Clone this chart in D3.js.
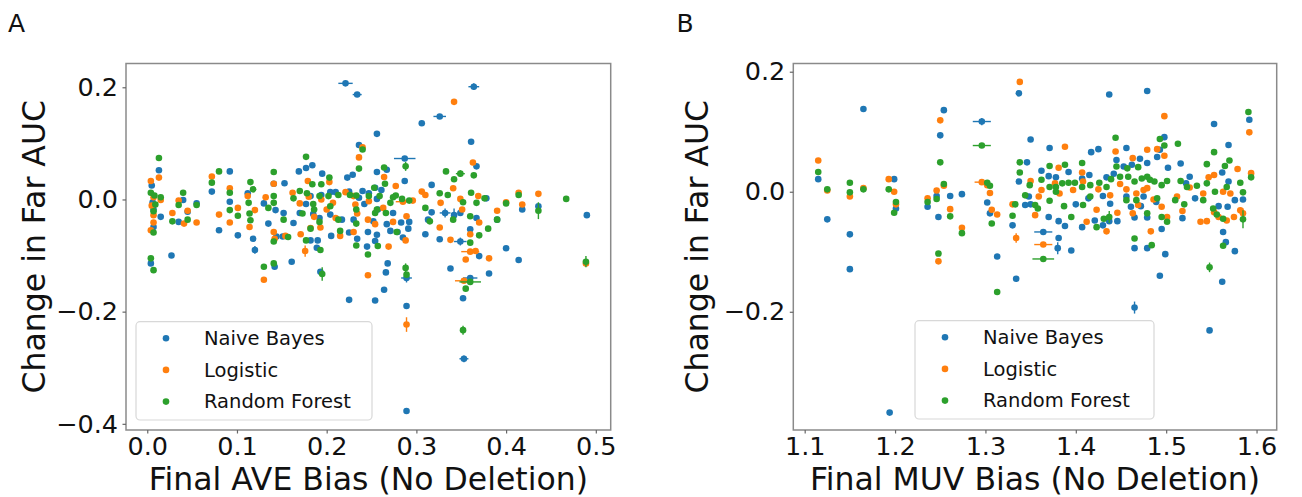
<!DOCTYPE html>
<html>
<head>
<meta charset="utf-8">
<script src="https://cdn.jsdelivr.net/npm/d3@7"></script>
<style>
  body { margin: 0; background: #fff; }
  svg { font-family: "DejaVu Sans", sans-serif; }
</style>
</head>
<body>
<svg id="chart" width="1302" height="497"></svg>
<script>
// each point: [x, y, xerr, yerr] (errors optional)
var seriesNames = ["Naive Bayes", "Logistic", "Random Forest"];
var seriesColors = ["#1f77b4", "#ff7f0e", "#2ca02c"];

var aveXTicks = [0, 0.1, 0.2, 0.3, 0.4, 0.5];
var aveYTicks = [-0.4, -0.2, 0, 0.2];
var muvXTicks = [1.1, 1.2, 1.3, 1.4, 1.5, 1.6];
var muvYTicks = [-0.2, 0, 0.2];

var aveNaiveBayes = [
    [0.221,0.207,0.008,0],[0.234,0.187,0.005,0],[0.256,0.117],[0.236,0.097],[0.013,0.052],
    [0.092,0.050],[0.072,0.014],[0.005,0.025],[0.006,-0.005],[0.007,-0.018],[0.015,-0.031],
    [0.007,-0.049],[0.035,-0.040],[0.040,-0.001],[0.045,-0.022],[0.055,-0.007],[0.027,-0.100],
    [0.080,-0.055],[0.092,-0.004],[0.101,-0.064],[0.112,0.011],[0.118,-0.070],[0.120,-0.090,0,0.007],
    [0.004,-0.114],[0.130,-0.007],[0.135,-0.043],[0.141,0.028],[0.143,-0.019],[0.144,-0.066],
    [0.142,-0.120],[0.153,0.029],[0.152,-0.024],[0.151,-0.066],[0.163,-0.042],[0.170,-0.024],
    [0.161,-0.111],[0.169,0.050],[0.177,0.056],[0.184,0.061],[0.177,-0.008],[0.182,0.006],
    [0.185,-0.026],[0.194,0.008],[0.192,-0.033],[0.182,-0.073],[0.190,-0.073],[0.189,-0.086],
    [0.193,-0.129],[0.195,0.046],[0.204,0.013],[0.204,-0.027],[0.205,-0.065],[0.217,-0.036],
    [0.210,0.013],[0.223,0.039],[0.229,0.044],[0.225,0.014],[0.236,0.003],[0.230,-0.036],
    [0.225,-0.059],[0.234,-0.070],[0.246,-0.058],[0.256,0.001],[0.254,0.021],[0.254,-0.074],
    [0.240,0.015],[0.245,-0.084],[0.225,-0.179],[0.254,-0.180],
    [0.364,0.201,0.006,0.006],[0.326,0.148,0.007,0],[0.306,0.136],[0.361,0.103],[0.287,0.073,0.012,0],
    [0.367,0.059],[0.287,0.033],[0.267,0.053],[0.256,0.049],[0.317,0.026],[0.247,0.011],
    [0.261,0.017],[0.242,-0.008],[0.257,-0.018],[0.274,-0.024],[0.252,-0.039],[0.267,-0.044],
    [0.283,-0.041],[0.292,-0.040],[0.256,-0.063],[0.271,-0.056],[0.279,-0.058],[0.285,-0.068],
    [0.291,-0.052],[0.310,-0.062],[0.317,-0.023],[0.313,-0.036],[0.326,-0.071],
    [0.332,-0.024,0.006,0.008],[0.342,-0.028,0,0.012],[0.349,-0.024],[0.349,-0.075,0.007,0.007],
    [0.360,-0.053],[0.367,-0.033],[0.378,0.002],[0.390,-0.036],[0.400,-0.087],[0.414,-0.108],
    [0.418,-0.018],[0.436,-0.012],[0.490,-0.028],[0.381,-0.132],[0.370,-0.101],[0.338,-0.123],
    [0.268,-0.114],[0.266,-0.130],[0.289,-0.140,0.006,0.008],[0.264,-0.161],[0.289,-0.190],
    [0.352,-0.176],[0.353,-0.284,0.005,0.006],[0.289,-0.377],[0.360,-0.140,0.008,0]
];

var aveLogistic = [
    [0.240,0.093],[0.236,0.075],[0.013,0.039],[0.004,0.033],[0.007,0.004],[0.005,-0.011],
    [0.015,-0.001],[0.007,-0.028],[0.007,-0.041],[0.004,-0.055],[0.028,-0.024],[0.035,-0.002],
    [0.041,-0.043],[0.045,-0.020],[0.055,-0.041],[0.072,0.041],[0.080,-0.027],[0.092,0.020],
    [0.092,-0.041],[0.101,-0.015],[0.112,0.006],[0.120,-0.019],[0.114,-0.049],[0.132,0.004],
    [0.141,0.028],[0.141,-0.058],[0.142,-0.070],[0.130,-0.143],[0.154,-0.065],[0.162,0.012],
    [0.170,-0.007],[0.171,-0.062],[0.179,0.033],[0.180,0.005],[0.186,-0.031],[0.194,0.000],
    [0.193,-0.050],[0.176,-0.092,0,0.010],[0.182,-0.051],[0.203,0.031],[0.207,-0.006],
    [0.200,-0.018],[0.210,-0.033],[0.215,-0.065],[0.221,0.013],[0.230,0.006],[0.232,-0.009],
    [0.234,-0.025],[0.230,-0.058],[0.246,-0.036],[0.247,-0.003],[0.254,-0.044],[0.246,-0.135],
    [0.342,0.174],[0.363,0.066],[0.264,0.040],[0.277,0.024],[0.306,0.014],[0.310,0.008],
    [0.327,-0.006],[0.341,0.020],[0.349,0.001],[0.369,0.006],[0.390,-0.020],[0.400,-0.005],
    [0.414,0.012],[0.418,-0.009],[0.436,0.010],[0.489,-0.114],[0.263,-0.015],[0.289,-0.030],
    [0.274,-0.040],[0.288,-0.073],[0.269,-0.084],[0.326,-0.050],[0.338,-0.072],[0.351,-0.018],
    [0.360,-0.062],[0.360,-0.093,0.010,0],[0.366,-0.092],[0.355,-0.107],[0.381,-0.105],
    [0.370,-0.041],[0.289,-0.223,0,0.013],[0.353,-0.145,0.010,0],[0.285,-0.004,0.008,0],[0.296,-0.002]
];

var aveRandomForest = [
    [0.240,0.089],[0.236,0.055],[0.013,0.074],[0.004,0.012],[0.008,0.007],[0.009,-0.009],
    [0.015,0.004],[0.007,-0.021],[0.007,-0.059],[0.004,-0.105],[0.007,-0.126],[0.028,-0.039],
    [0.035,-0.010],[0.040,0.012],[0.045,-0.036],[0.055,-0.010],[0.072,0.030],[0.080,0.050],
    [0.092,0.012],[0.092,-0.019],[0.101,-0.029],[0.115,0.031],[0.118,0.018],[0.113,-0.006],
    [0.114,-0.025],[0.115,-0.037],[0.135,-0.015],[0.141,0.049],[0.141,0.006],[0.141,-0.006],
    [0.141,-0.075],[0.130,-0.120],[0.141,-0.114],[0.152,-0.036],[0.157,-0.067],[0.163,0.002],
    [0.170,0.015],[0.173,-0.025],[0.177,0.076],[0.184,0.027],[0.178,0.011],[0.185,-0.008],
    [0.186,-0.018],[0.192,0.006],[0.192,-0.040],[0.177,-0.073],[0.193,-0.090],[0.182,-0.052],
    [0.195,-0.133,0,0.012],[0.194,0.027],[0.203,0.039],[0.202,0.006],[0.204,-0.012],
    [0.213,-0.036],[0.215,-0.056],[0.213,0.008],[0.226,0.008],[0.233,0.007],[0.233,-0.018],
    [0.233,-0.043],[0.233,-0.082],[0.254,-0.024],[0.247,0.006],[0.256,-0.018],[0.246,-0.098],
    [0.257,-0.083],
    [0.288,0.059,0,0.008],[0.264,0.057],[0.253,0.021],[0.265,0.028],[0.277,0.007],[0.284,0.001],
    [0.292,-0.002],[0.259,0.006],[0.271,-0.006],[0.266,-0.024],[0.274,0.004],[0.310,-0.015],
    [0.315,-0.039],[0.326,0.011],[0.335,0.008],[0.333,0.050],[0.342,0.036],[0.349,0.046,0.005,0.006],
    [0.364,0.043],[0.361,0.012],[0.367,-0.006],[0.376,0.002],[0.352,-0.005],[0.341,-0.036],
    [0.360,-0.030],[0.380,-0.052],[0.390,-0.036],[0.400,-0.007],[0.414,0.008],[0.436,-0.020,0,0.015],
    [0.467,0.001],[0.489,-0.111,0,0.010],[0.370,-0.064],[0.360,-0.077],[0.278,-0.058],
    [0.288,-0.122,0,0.008],[0.289,-0.134],[0.355,-0.159],[0.360,-0.147,0.012,0],[0.352,-0.233,0,0.008]
];

var muvNaiveBayes = [
    [1.165,0.138],[1.115,0.021],[1.125,-0.046],[1.150,-0.071],[1.150,-0.129],[1.199,0.021],
    [1.201,-0.028],[1.236,-0.025],[1.248,-0.042],[1.246,-0.007],[1.250,0.094],[1.254,0.136],
    [1.261,-0.007],[1.274,-0.004],[1.296,0.117,0.010,0.006],[1.302,-0.018],[1.305,-0.036],
    [1.313,-0.108],[1.330,-0.056],[1.334,-0.145],[1.337,0.164],[1.337,0.017],[1.194,-0.368],
    [1.437,0.162],[1.479,0.168],[1.350,0.087],[1.371,0.073],[1.417,0.066],[1.425,0.071],
    [1.456,0.073],[1.445,0.053],[1.346,0.049],[1.362,0.035],[1.370,0.026],[1.378,0.024],
    [1.392,0.033],[1.407,0.022],[1.415,0.028],[1.434,0.024],[1.442,0.030],[1.453,0.042],
    [1.462,0.045],[1.471,0.055],[1.479,0.048],[1.490,0.058],[1.498,0.091],[1.493,0.070],
    [1.502,0.040],[1.516,0.047],[1.526,0.025],[1.522,0.014],[1.553,0.113],[1.569,0.078],
    [1.592,0.120],[1.562,0.032],[1.569,0.017],[1.348,-0.008],[1.350,-0.021],[1.344,-0.022],
    [1.370,-0.042],[1.381,-0.049],[1.388,-0.057],[1.407,-0.059],[1.421,-0.048],[1.430,-0.056],
    [1.437,-0.049],[1.446,-0.049],[1.364,-0.067,0.010,0],[1.380,-0.094,0,0.010],[1.381,-0.077],
    [1.395,-0.098],[1.400,-0.021],[1.414,-0.011],[1.430,-0.007],[1.438,-0.020],[1.456,-0.008],
    [1.461,-0.025],[1.465,-0.043],[1.472,-0.024],[1.479,-0.043],[1.475,-0.008],[1.489,-0.017],
    [1.495,-0.062],[1.465,-0.094],[1.479,-0.094],[1.499,-0.104],[1.493,-0.140],
    [1.465,-0.193,0,0.010],[1.518,-0.044],[1.532,-0.011],[1.558,-0.024],[1.563,-0.067],
    [1.566,-0.084],[1.568,-0.025],[1.576,-0.014],[1.585,-0.013],[1.576,-0.099],[1.562,-0.150],
    [1.548,-0.231]
];

var muvLogistic = [
    [1.115,0.052],[1.125,0.002],[1.150,-0.008],[1.165,0.006],[1.193,0.021],[1.199,0.000],
    [1.201,-0.021],[1.236,-0.011],[1.246,0.002],[1.250,0.119],[1.254,0.010],[1.261,-0.029],
    [1.274,-0.060],[1.248,-0.116],[1.296,0.016,0.008,0],[1.302,0.011],[1.305,-0.002],
    [1.307,-0.030],[1.313,-0.038],[1.330,-0.021],[1.334,-0.077,0,0.008],[1.338,0.183],
    [1.498,0.126],[1.592,0.099],[1.388,0.075],[1.444,0.067],[1.463,0.056],[1.479,0.070],
    [1.490,0.071],[1.498,0.060],[1.381,0.040],[1.407,0.032],[1.350,0.018],[1.362,0.003],
    [1.377,0.014],[1.382,-0.003],[1.397,0.003],[1.408,0.017],[1.425,0.004],[1.438,-0.006],
    [1.449,0.013],[1.456,0.004],[1.467,-0.003],[1.475,0.003],[1.479,0.006],[1.486,-0.013],
    [1.495,-0.025],[1.501,-0.042],[1.512,-0.008],[1.518,-0.032],[1.526,0.007],[1.541,-0.003],
    [1.547,0.024],[1.553,0.028],[1.563,0.000],[1.571,-0.003],[1.579,0.038],[1.582,-0.031],
    [1.585,-0.036,0,0.008],[1.594,0.031],[1.355,-0.039],[1.359,-0.008],[1.364,-0.088,0.010,0],
    [1.412,-0.050],[1.434,-0.066],[1.446,-0.035],[1.463,-0.036],[1.469,-0.022],[1.483,-0.066],
    [1.538,-0.050],[1.545,-0.049],[1.558,-0.042],[1.567,-0.048],[1.575,-0.042],[1.553,-0.034],
    [1.423,-0.030]
];

var muvRandomForest = [
    [1.115,0.033],[1.125,0.004],[1.150,-0.001],[1.150,0.015],[1.165,0.004],[1.193,0.004],
    [1.199,-0.035],[1.201,-0.017],[1.236,-0.017],[1.246,-0.012],[1.250,0.049],[1.254,0.013],
    [1.261,-0.041],[1.274,-0.069],[1.248,-0.103],[1.296,0.077,0.010,0],[1.302,0.015],
    [1.305,0.010],[1.307,-0.053],[1.313,-0.167],[1.330,-0.040],[1.333,-0.021],[1.338,0.049],
    [1.338,0.032],[1.591,0.133],[1.594,0.024],[1.444,0.090],[1.493,0.088],[1.498,0.077],
    [1.513,0.080],[1.553,0.066],[1.570,0.052],[1.545,0.046],[1.565,0.043],[1.371,0.043],
    [1.388,0.045],[1.407,0.048],[1.445,0.042],[1.457,0.039],[1.469,0.041],[1.349,0.011],
    [1.362,0.020],[1.371,0.008],[1.378,0.008],[1.385,0.014],[1.392,0.015],[1.399,0.015],
    [1.407,0.008],[1.416,0.011],[1.426,0.015],[1.434,0.008],[1.439,0.021],[1.449,0.025],
    [1.458,0.025],[1.465,0.017],[1.473,0.022],[1.479,0.025],[1.482,0.020],[1.487,0.017],
    [1.495,0.011],[1.501,0.018],[1.516,0.018],[1.523,0.008],[1.534,0.010],[1.545,0.014],
    [1.554,0.000],[1.567,0.008],[1.582,0.015],[1.585,-0.001],[1.344,-0.006],[1.355,-0.022],
    [1.358,-0.028],[1.371,-0.015],[1.378,0.000],[1.387,-0.024],[1.395,-0.042],[1.408,-0.022],
    [1.416,-0.008],[1.423,-0.059],[1.431,-0.045],[1.437,-0.042,0,0.010],[1.456,-0.014],
    [1.467,-0.014],[1.479,-0.036],[1.490,-0.011],[1.495,-0.042],[1.501,-0.050],[1.510,-0.014],
    [1.520,-0.021],[1.541,-0.014],[1.552,-0.028],[1.556,-0.038],[1.563,-0.045],
    [1.585,-0.046,0,0.015],[1.465,-0.078],[1.484,-0.089],[1.563,-0.090],[1.548,-0.126,0,0.008],
    [1.364,-0.112,0.012,0]
];

var panels = [
    {
        letter: "A", letterX: 8,
        series: [aveNaiveBayes, aveLogistic, aveRandomForest],
        xDomain: [-0.0237, 0.5166], yDomain: [-0.411, 0.2424],
        xTicks: aveXTicks, yTicks: aveYTicks,
        left: 126, right: 610.7, top: 63.5, bottom: 430,
        xLabel: "Final AVE Bias (No Deletion)", yLabelX: 45,
        legend: { x: 136, y: 321.7, w: 236, h: 98.3 }
    },
    {
        letter: "B", letterX: 676.5,
        series: [muvNaiveBayes, muvLogistic, muvRandomForest],
        xDomain: [1.0874, 1.6223], yDomain: [-0.397, 0.2137],
        xTicks: muvXTicks, yTicks: muvYTicks,
        left: 793.3, right: 1276.7, top: 63.5, bottom: 430,
        xLabel: "Final MUV Bias (No Deletion)", yLabelX: 708,
        legend: { x: 915, y: 320.7, w: 239, h: 98.3 }
    }
];

var svg = d3.select("#chart");
var fmt = d3.format(".1f");

panels.forEach(function(p) {
    var x = d3.scaleLinear().domain(p.xDomain).range([p.left, p.right]);
    var y = d3.scaleLinear().domain(p.yDomain).range([p.bottom, p.top]);

    var g = svg.append("g");

    // points with error bars, series by series (green ends on top)
    p.series.forEach(function(data, si) {
        var col = seriesColors[si];
        var sg = g.append("g");
        data.forEach(function(d) {
            var xe = d[2] || 0, ye = d[3] || 0;
            if (xe > 0) {
                sg.append("line")
                    .attr("x1", x(d[0] - xe)).attr("x2", x(d[0] + xe))
                    .attr("y1", y(d[1])).attr("y2", y(d[1]))
                    .attr("stroke", col).attr("stroke-width", 1.4);
            }
            if (ye > 0) {
                sg.append("line")
                    .attr("x1", x(d[0])).attr("x2", x(d[0]))
                    .attr("y1", y(d[1] - ye)).attr("y2", y(d[1] + ye))
                    .attr("stroke", col).attr("stroke-width", 1.4);
            }
        });
        sg.selectAll("circle")
            .data(data)
            .enter()
            .append("circle")
            .attr("cx", function(d) { return x(d[0]); })
            .attr("cy", function(d) { return y(d[1]); })
            .attr("r", 3.3)
            .attr("fill", col);
    });

    // frame
    g.append("rect")
        .attr("x", p.left).attr("y", p.top)
        .attr("width", p.right - p.left).attr("height", p.bottom - p.top)
        .attr("fill", "none").attr("stroke", "#8a8a8a").attr("stroke-width", 1.5);

    var xAxis = g.append("g")
        .attr("transform", "translate(0," + p.bottom + ")")
        .call(d3.axisBottom(x).tickValues(p.xTicks).tickFormat(fmt).tickSize(3.5).tickPadding(3.5));
    var yAxis = g.append("g")
        .attr("transform", "translate(" + p.left + ",0)")
        .call(d3.axisLeft(y).tickValues(p.yTicks).tickFormat(fmt).tickSize(3.5).tickPadding(4.5));

    [xAxis, yAxis].forEach(function(ax) {
        ax.select(".domain").remove();
        ax.selectAll(".tick line").attr("stroke", "#666").attr("stroke-width", 1.2);
        ax.selectAll(".tick text")
            .attr("fill", "#111")
            .style("font-family", "DejaVu Sans")
            .style("font-size", "25.5px");
    });

    // axis labels
    g.append("text")
        .attr("x", (p.left + p.right) / 2).attr("y", 490)
        .attr("text-anchor", "middle")
        .attr("fill", "#111")
        .style("font-size", "31.5px")
        .text(p.xLabel);
    g.append("text")
        .attr("transform", "translate(" + p.yLabelX + "," + ((p.top + p.bottom) / 2) + ") rotate(-90)")
        .attr("text-anchor", "middle")
        .attr("fill", "#111")
        .style("font-size", "31.5px")
        .text("Change in Far AUC");

    // panel letter
    g.append("text")
        .attr("x", p.letterX).attr("y", 31.7)
        .attr("fill", "#111")
        .style("font-size", "25px")
        .text(p.letter);

    // legend
    var lg = g.append("g");
    lg.append("rect")
        .attr("x", p.legend.x).attr("y", p.legend.y)
        .attr("width", p.legend.w).attr("height", p.legend.h)
        .attr("rx", 4).attr("ry", 4)
        .attr("fill", "#fff").attr("fill-opacity", 0.8)
        .attr("stroke", "#d8d8d8").attr("stroke-width", 1.2);
    seriesNames.forEach(function(name, i) {
        var cy = p.legend.y + 16.5 + i * 31.7;
        lg.append("circle")
            .attr("cx", p.legend.x + 30).attr("cy", cy).attr("r", 3.3)
            .attr("fill", seriesColors[i]);
        lg.append("text")
            .attr("x", p.legend.x + 68).attr("y", cy)
            .attr("dy", "0.35em")
            .attr("fill", "#111")
            .style("font-size", "19.5px")
            .text(name);
    });
});
</script>
</body>
</html>
